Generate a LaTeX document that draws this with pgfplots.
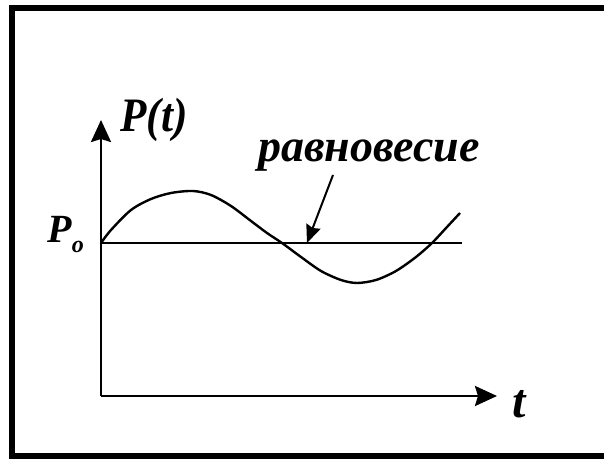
\documentclass[border=0pt]{standalone}
\usepackage{fontspec}
\setmainfont{Liberation Serif}
\usepackage{pgfplots}
\pgfplotsset{compat=1.18}
\usetikzlibrary{arrows.meta}

\begin{document}
\begin{tikzpicture}
\begin{axis}[
    x=0.5pt, y=0.5pt,
    xmin=0, xmax=396,
    ymin=0, ymax=276,
    axis lines=left,
    axis line style={line width=1.3pt, -{Stealth[length=11pt,width=10pt,inset=1.5pt]}},
    xtick=\empty, ytick=\empty,
    clip=false,
]
% equilibrium level
\addplot[line width=1.2pt, no marks] coordinates {(0,153) (361,153)};
% oscillation about the equilibrium
\addplot[line width=1.2pt, no marks, smooth] coordinates {
    (0,153) (10,166) (30,186) (50,197) (70,203) (92,205) (110,201)
    (130,190) (150,175) (166,163) (181,153) (200,139) (220,125)
    (240,116) (256,113) (275,116) (295,125) (315,139) (331,153)
    (346,169) (359,183)
};
% pointer to the equilibrium line
\draw[line width=1pt, -{Stealth[length=9pt,width=7.5pt,inset=1pt]}]
    (axis cs:232,221) -- (axis cs:206,153);
% labels
\node[anchor=base west, inner sep=0pt, font=\fontsize{24}{28}\selectfont\bfseries\itshape]
    at (axis cs:19,264) {\scalebox{0.9}[1]{P(t)}};
\node[anchor=base west, inner sep=0pt, font=\fontsize{23}{27}\selectfont\bfseries\itshape]
    at (axis cs:157,234) {равновесие};
\node[anchor=base west, inner sep=0pt, font=\fontsize{20}{24}\selectfont\bfseries\itshape]
    at (axis cs:-54,153) {P\raisebox{-5pt}{\fontsize{12}{14}\selectfont o}};
\node[anchor=base west, inner sep=0pt, font=\fontsize{24}{28}\selectfont\bfseries\itshape]
    at (axis cs:411,-22) {t};
% frame (its right side lies outside the picture)
\draw[line width=3pt] (axis cs:503,388) -- (axis cs:-89,388)
    -- (axis cs:-89,-60) -- (axis cs:503,-60);
\coordinate (bl) at (axis cs:-101,-63);
\coordinate (tr) at (axis cs:503,396);
\end{axis}
\pgfresetboundingbox
\useasboundingbox (bl) rectangle (tr);
\end{tikzpicture}
\end{document}
